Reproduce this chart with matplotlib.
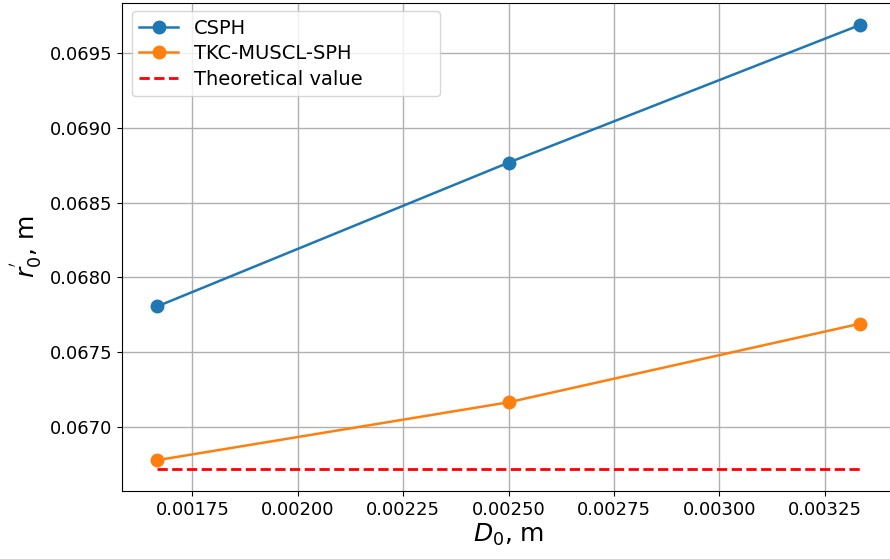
import matplotlib
matplotlib.use("Agg")
import matplotlib.pyplot as plt

# Particle spacing D0 and computed radius r0'
d0 = [1 / 600, 1 / 400, 1 / 300]
csph = [0.067806, 0.068767, 0.069687]
tkc_muscl_sph = [0.066778, 0.067165, 0.067690]
theoretical = 0.066719

fig = plt.figure(figsize=(8.9, 5.59), dpi=100)
ax = fig.add_axes([0.1372, 0.1213, 0.8685, 0.8737])

ax.plot(d0, csph, marker="o", markersize=9, linewidth=1.8, label="CSPH")
ax.plot(d0, tkc_muscl_sph, marker="o", markersize=9, linewidth=1.8, label="TKC-MUSCL-SPH")
ax.plot([d0[0], d0[-1]], [theoretical, theoretical], "r--", linewidth=2, label="Theoretical value")

ax.set_xlabel("$D_0$, m", fontsize=18, labelpad=2)
ax.set_ylabel("$r^{'}_0$, m", fontsize=18)
ax.tick_params(labelsize=13)
ax.grid(True, linewidth=1)
ax.legend(fontsize=14, loc="upper left", mode="expand", borderaxespad=0,
          bbox_to_anchor=(0.0124, 0.0, 0.3988, 0.9832), labelspacing=0.33)

fig.savefig("out.png", dpi=100)
